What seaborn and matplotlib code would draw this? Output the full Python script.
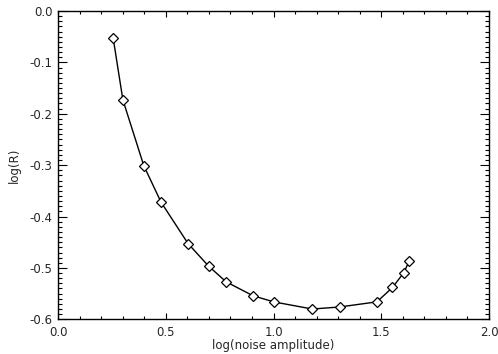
import matplotlib
matplotlib.use('Agg')
import matplotlib.pyplot as plt
from matplotlib.ticker import MultipleLocator, FormatStrFormatter
import pandas as pd
import seaborn as sns

# ── data ──────────────────────────────────────────────────────────────────────
log_noise = [0.256, 0.301, 0.398, 0.478, 0.604, 0.700, 0.780, 0.904, 1.000,
             1.180, 1.307, 1.480, 1.552, 1.605, 1.630]
log_r = [-0.053, -0.173, -0.301, -0.372, -0.453, -0.497, -0.527, -0.554, -0.566,
         -0.580, -0.576, -0.566, -0.538, -0.509, -0.486]

df = pd.DataFrame({'x': log_noise, 'y': log_r})

sns.set_style('ticks')
plt.rcParams['font.family'] = ['DejaVu Sans']

fig = plt.figure(figsize=(4.98, 3.54), dpi=100)
ax = fig.add_axes([0.1165, 0.098, 0.8655, 0.871])

sns.lineplot(data=df, x='x', y='y', ax=ax, color='black', linewidth=1.0,
             marker='D', markersize=5.5, markerfacecolor='white',
             markeredgecolor='black', markeredgewidth=0.9)

ax.set_xlim(0.0, 2.0)
ax.set_ylim(-0.6, 0.0)
ax.xaxis.set_major_locator(MultipleLocator(0.5))
ax.xaxis.set_minor_locator(MultipleLocator(0.1))
ax.yaxis.set_major_locator(MultipleLocator(0.1))
ax.yaxis.set_minor_locator(MultipleLocator(0.01))
ax.xaxis.set_major_formatter(FormatStrFormatter('%.1f'))
ax.yaxis.set_major_formatter(FormatStrFormatter('%.1f'))

ax.tick_params(axis='both', which='both', direction='in', top=True, right=True,
               labelsize=8.5, width=0.8, color='black')
ax.tick_params(axis='x', which='major', length=4.5, pad=5)
ax.tick_params(axis='x', which='minor', length=2.2)
ax.tick_params(axis='y', which='major', length=6.2, pad=4)
ax.tick_params(axis='y', which='minor', length=3.1)
for s in ax.spines.values():
    s.set_linewidth(1.0)
    s.set_color('black')

ax.set_xlabel('log(noise amplitude)', fontsize=8.5, labelpad=0)
ax.set_ylabel('log(R)', fontsize=8.5, labelpad=6)

fig.savefig('out.png', dpi=100)
